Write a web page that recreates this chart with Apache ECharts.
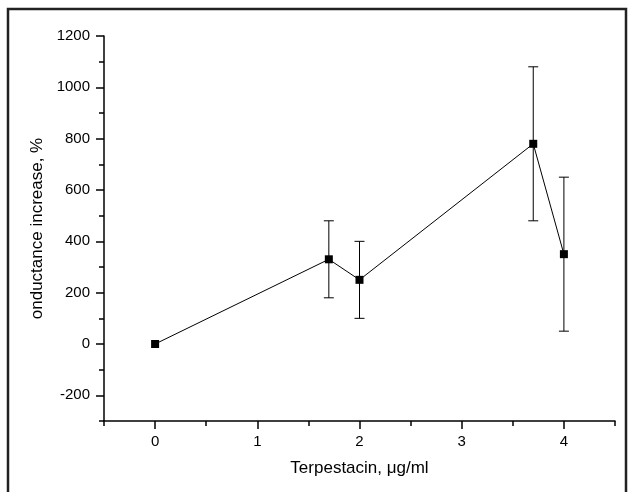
<!DOCTYPE html>
<html>
<head>
<meta charset="utf-8">
<script src="https://cdn.jsdelivr.net/npm/echarts@6/dist/echarts.min.js"></script>
<style>html,body{margin:0;padding:0;background:#fff;}#c{width:634px;height:492px;}</style>
</head>
<body>
<div id="c"></div>
<script>
const xValues = [0, 1.7, 2.0, 3.7, 4.0];
const yValues = [0, 330, 250, 780, 350];
const errLow = [0, 180, 100, 480, 50];
const errHigh = [0, 480, 400, 1080, 650];
const xMajorTicks = [0, 1, 2, 3, 4];
const xMinorTicks = [-0.5, 0.5, 1.5, 2.5, 3.5, 4.5];
const yMajorTicks = [-200, 0, 200, 400, 600, 800, 1000, 1200];
const yMinorTicks = [-300, -100, 100, 300, 500, 700, 900, 1100];

const font = 'Liberation Sans, Arial, sans-serif';
const chart = echarts.init(document.getElementById('c'), null, {renderer: 'canvas'});
const pts = xValues.map((x, i) => [x, yValues[i]]);
const errs = xValues.map((x, i) => [x, errLow[i], errHigh[i]]).filter(d => d[1] !== d[2]);

const baseX = {type: 'value', min: -0.5, max: 4.5, position: 'bottom', splitLine: {show: false}};
const baseY = {type: 'value', min: -300, max: 1200, position: 'left', splitLine: {show: false}};
const plain = v => String(v);

chart.setOption({
  animation: false,
  backgroundColor: '#fff',
  graphic: [{
    type: 'rect', shape: {x: 8, y: 9, width: 618, height: 500},
    style: {fill: 'none', stroke: '#222', lineWidth: 2.5}, silent: true, z: 100
  }],
  grid: {left: 104, top: 36, right: 19, bottom: 71},
  xAxis: [
    Object.assign({}, baseX, {
      name: 'Terpestacin, \u03bcg/ml', nameLocation: 'middle', nameGap: 39,
      nameTextStyle: {fontFamily: font, fontSize: 17, color: '#000'},
      axisLine: {show: true, onZero: false, lineStyle: {color: '#000', width: 1.5}},
      axisTick: {show: true, inside: false, length: 8, lineStyle: {color: '#000', width: 1.5}, customValues: xMajorTicks},
      axisLabel: {show: true, margin: 13, fontFamily: font, fontSize: 15, color: '#000', customValues: xMajorTicks, formatter: plain}
    }),
    Object.assign({}, baseX, {
      axisLine: {show: false, onZero: false},
      axisTick: {show: true, inside: false, length: 5, lineStyle: {color: '#000', width: 1.5}, customValues: xMinorTicks},
      axisLabel: {show: false}
    })
  ],
  yAxis: [
    Object.assign({}, baseY, {
      name: 'onductance increase, %', nameLocation: 'middle', nameGap: 56,
      nameTextStyle: {fontFamily: font, fontSize: 17, color: '#000'},
      axisLine: {show: true, onZero: false, lineStyle: {color: '#000', width: 1.5}},
      axisTick: {show: true, inside: false, length: 8, lineStyle: {color: '#000', width: 1.5}, customValues: yMajorTicks},
      axisLabel: {show: true, margin: 14, fontFamily: font, fontSize: 15, color: '#000', customValues: yMajorTicks, formatter: plain}
    }),
    Object.assign({}, baseY, {
      axisLine: {show: false, onZero: false},
      axisTick: {show: true, inside: false, length: 5, lineStyle: {color: '#000', width: 1.5}, customValues: yMinorTicks},
      axisLabel: {show: false}
    })
  ],
  series: [
    {
      type: 'custom', xAxisIndex: 0, yAxisIndex: 0, data: errs, z: 2,
      renderItem: function (params, api) {
        const x = api.value(0);
        const lo = api.coord([x, api.value(1)]);
        const hi = api.coord([x, api.value(2)]);
        const cap = 5;
        const st = {stroke: '#000', lineWidth: 1};
        return {type: 'group', children: [
          {type: 'line', shape: {x1: lo[0], y1: lo[1], x2: hi[0], y2: hi[1]}, style: st},
          {type: 'line', shape: {x1: lo[0] - cap, y1: lo[1], x2: lo[0] + cap, y2: lo[1]}, style: st},
          {type: 'line', shape: {x1: hi[0] - cap, y1: hi[1], x2: hi[0] + cap, y2: hi[1]}, style: st}
        ]};
      }
    },
    {
      type: 'line', xAxisIndex: 0, yAxisIndex: 0, data: pts, z: 3,
      symbol: 'rect', symbolSize: 8,
      itemStyle: {color: '#000'},
      lineStyle: {color: '#000', width: 1}
    }
  ]
});
</script>
</body>
</html>
